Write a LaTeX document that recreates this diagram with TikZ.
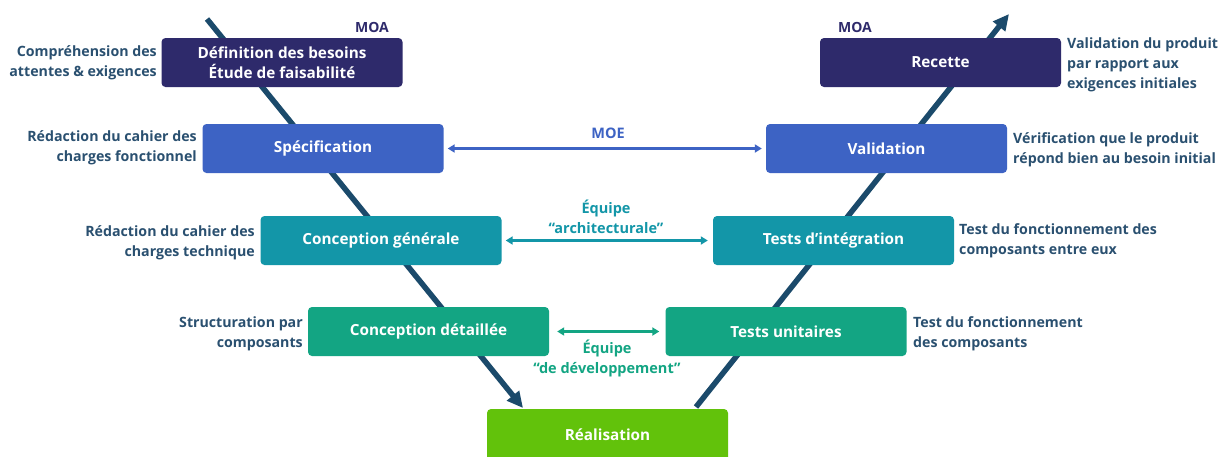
\documentclass[tikz,border=0pt]{standalone}
\usepackage{fontspec}
\setmainfont{Open Sans}
\usetikzlibrary{arrows.meta,calc}
\definecolor{navy}{HTML}{2E2A6B}
\definecolor{blueb}{HTML}{3D63C4}
\definecolor{tealb}{HTML}{1396A8}
\definecolor{greenb}{HTML}{13A583}
\definecolor{limeb}{HTML}{62C20B}
\definecolor{vline}{HTML}{1B4A6B}
\definecolor{lbl}{HTML}{2A5070}
\tikzset{
  phase/.style={fill=#1, rounded corners=4pt, text=white, font=\fontsize{15.3}{20}\selectfont\bfseries, minimum width=241pt, minimum height=49pt, inner sep=0pt, align=center},
  sidel/.style={text=lbl, font=\fontsize{14.2}{20}\selectfont\bfseries, inner sep=0pt, align=right, anchor=east},
  sider/.style={text=lbl, font=\fontsize{14.2}{20}\selectfont\bfseries, inner sep=0pt, align=left, anchor=west},
  vstroke/.style={draw=vline, line width=5.5pt},
  harrow/.style={draw=#1, line width=2.5pt, {Triangle[length=7pt,width=8pt]}-{Triangle[length=7pt,width=8pt]}},
  teamlbl/.style={text=#1, font=\fontsize{14.5}{20}\selectfont\bfseries, inner sep=0pt, align=center}
}
\begin{document}
\begin{tikzpicture}[x=1pt,y=-1pt]
\clip (0,0) rectangle (1228,456);
\fill[white] (0,0) rectangle (1228,456);
% V lines (behind boxes)
\coordinate (lt) at (207,19);
\coordinate (lb) at (523,408);
\coordinate (rb) at (696,407);
\coordinate (rt) at (1009,14);
\draw[vstroke, -{Triangle[length=16pt,width=15pt]}] (lt) -- (lb);
\draw[vstroke, -{Triangle[length=16pt,width=15pt]}] (rb) -- (rt);
% boxes
\node[phase=navy] (def) at (282,62.5) {Définition des besoins\\Étude de faisabilité};
\node[phase=navy] (rec) at (940.5,62.5) {Recette};
\node[phase=blueb] (spe) at (323,148.5) {Spécification};
\node[phase=blueb] (val) at (886.5,148.5) {Validation};
\node[phase=tealb] (cg) at (381,240.5) {Conception générale};
\node[phase=tealb] (ti) at (833.5,240.5) {Tests d’intégration};
\node[phase=greenb] (cd) at (428.5,331.5) {Conception détaillée};
\node[phase=greenb] (tu) at (786,331.5) {Tests unitaires};
\node[phase=limeb, minimum height=60pt] (rea) at (607.5,439) {};
\node[text=white, font=\fontsize{15.3}{20}\selectfont\bfseries] (reat) at (607.5,434.5) {Réalisation};
% MOA labels
\node[text=navy, font=\fontsize{14}{16}\selectfont\bfseries] (moal) at (372,27) {MOA};
\node[text=navy, font=\fontsize{14}{16}\selectfont\bfseries] (moar) at (855,27) {MOA};
% horizontal arrows
\draw[harrow=blueb] ($(spe.east)+(4,0)$) -- ($(val.west)+(-4,0)$);
\node[teamlbl=blueb] (moe) at (608,133) {MOE};
\draw[harrow=tealb] ($(cg.east)+(4,0)$) -- ($(ti.west)+(-5,0)$);
\node[teamlbl=tealb] (eqa) at (606,217) {Équipe\\“architecturale”};
\draw[harrow=greenb] ($(cd.east)+(8,0)$) -- ($(tu.west)+(-6,0)$);
\node[teamlbl=greenb] (eqd) at (607,358) {Équipe\\“de développement”};
% side labels
\node[sidel] (l1) at (157,63) {Compréhension des\\attentes \& exigences};
\node[sidel] (l2) at (197,148) {Rédaction du cahier des\\charges fonctionnel};
\node[sidel] (l3) at (255,243) {Rédaction du cahier des\\charges technique};
\node[sidel] (l4) at (303,333.5) {Structuration par\\composants};
\node[sider] (r1) at (1067,64.5) {Validation du produit\\par rapport aux\\exigences initiales};
\node[sider] (r2) at (1013,149.5) {Vérification que le produit\\répond bien au besoin initial};
\node[sider] (r3) at (959,241) {Test du fonctionnement des\\composants entre eux};
\node[sider] (r4) at (913,333.5) {Test du fonctionnement\\des composants};
\end{tikzpicture}
\end{document}
